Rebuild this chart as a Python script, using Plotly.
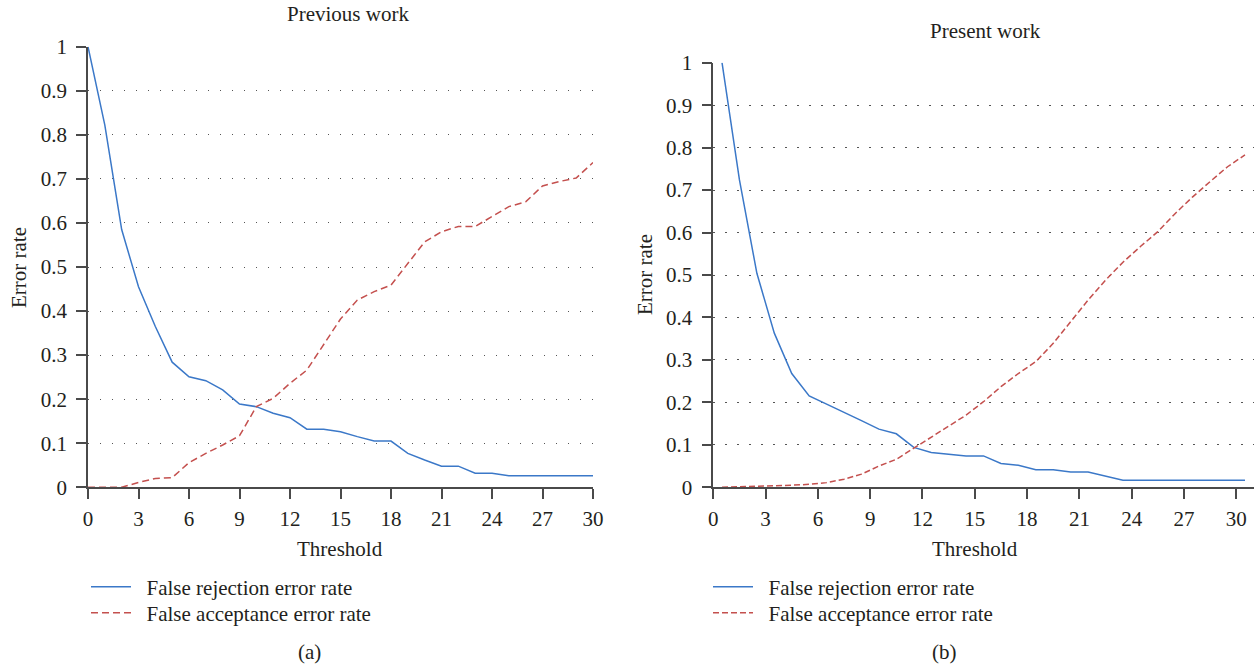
import plotly.graph_objects as go

W, H = 1256, 665

# ---------------- data ----------------
left_threshold = list(range(0, 31))
left_frr = [1.0, 0.822, 0.585, 0.455, 0.365, 0.284, 0.251, 0.242, 0.221, 0.189,
            0.183, 0.168, 0.158, 0.132, 0.132, 0.126, 0.115, 0.105, 0.105, 0.077,
            0.062, 0.048, 0.048, 0.032, 0.032, 0.026, 0.026, 0.026, 0.026, 0.026, 0.026]
left_far = [0.0, 0.0, 0.0, 0.011, 0.02, 0.022, 0.056, 0.077, 0.096, 0.117,
            0.183, 0.202, 0.236, 0.266, 0.325, 0.382, 0.425, 0.444, 0.459, 0.508,
            0.557, 0.58, 0.592, 0.592, 0.614, 0.637, 0.648, 0.684, 0.694, 0.702, 0.737]

right_threshold = [i + 0.5 for i in range(31)]
right_frr = [1.0, 0.724, 0.504, 0.363, 0.268, 0.215, 0.196, 0.177, 0.157, 0.137,
             0.126, 0.094, 0.082, 0.078, 0.074, 0.074, 0.056, 0.052, 0.0415, 0.0415,
             0.036, 0.036, 0.0266, 0.0165, 0.0165, 0.0165, 0.0165, 0.0165, 0.0165, 0.0165, 0.0165]
right_far = [0.0, 0.001, 0.002, 0.003, 0.005, 0.007, 0.011, 0.019, 0.031, 0.05,
             0.066, 0.092, 0.118, 0.143, 0.17, 0.2016, 0.237, 0.268, 0.296, 0.339,
             0.39, 0.441, 0.488, 0.53, 0.567, 0.602, 0.645, 0.684, 0.72, 0.755, 0.783]

x_ticks = list(range(0, 31, 3))
y_ticks = [round(i * 0.1, 1) for i in range(11)]
y_tick_text = ["0", "0.1", "0.2", "0.3", "0.4", "0.5", "0.6", "0.7", "0.8", "0.9", "1"]

series_names = ["False rejection error rate", "False acceptance error rate"]
titles = ["Previous work", "Present work"]
captions = ["(a)", "(b)"]

# ---------------- style ----------------
FONT = "Liberation Serif"
TXT = "#231f20"
AX = "#4a4a4a"
BLUE = "#3b78c8"
RED = "#c4504e"
FS = 21
PAD = "\u00a0\u00a0"


def px(x):
    return x / W


def py(y):
    return 1 - y / H


fig = go.Figure()

fig.add_trace(go.Scatter(x=left_threshold, y=left_frr, mode="lines", name=PAD + series_names[0],
                         line=dict(color=BLUE, width=1.5), xaxis="x", yaxis="y", legend="legend"))
fig.add_trace(go.Scatter(x=left_threshold, y=left_far, mode="lines", name=PAD + series_names[1],
                         line=dict(color=RED, width=1.5, dash="7px,4px"), xaxis="x", yaxis="y", legend="legend2"))
fig.add_trace(go.Scatter(x=right_threshold, y=right_frr, mode="lines", name=PAD + series_names[0],
                         line=dict(color=BLUE, width=1.5), xaxis="x2", yaxis="y2", legend="legend3"))
fig.add_trace(go.Scatter(x=right_threshold, y=right_far, mode="lines", name=PAD + series_names[1],
                         line=dict(color=RED, width=1.5, dash="6px,3px"), xaxis="x2", yaxis="y2", legend="legend4"))

common_x = dict(showgrid=False, zeroline=False, showline=True, linecolor=AX, linewidth=1.6,
                ticks="outside", ticklen=10, tickwidth=1.6, tickcolor=AX, ticklabelstandoff=2,
                tickvals=x_ticks, tickfont=dict(family=FONT, size=FS, color=TXT), automargin=False)
common_y = dict(showgrid=True, gridcolor="#555555", gridwidth=1.3, griddash="1.3px,10.7px",
                zeroline=False, showline=True, linecolor=AX, linewidth=1.6,
                ticks="outside", ticklen=10, tickwidth=1.6, tickcolor=AX, range=[0, 1],
                tickvals=y_ticks, ticktext=y_tick_text, ticklabelstandoff=5,
                tickfont=dict(family=FONT, size=FS, color=TXT), automargin=False)


def leg(xp, yp):
    return dict(x=px(xp), y=py(yp), xanchor="left", yanchor="middle", bgcolor="rgba(0,0,0,0)",
                font=dict(family=FONT, size=FS, color=TXT), itemwidth=40)


fig.update_layout(
    width=W, height=H,
    margin=dict(l=0, r=0, t=0, b=0, autoexpand=False),
    paper_bgcolor="white", plot_bgcolor="white",
    font=dict(family=FONT, size=FS, color=TXT),
    xaxis=dict(common_x, domain=[px(88), px(593)], range=[0, 30], anchor="y"),
    yaxis=dict(common_y, domain=[py(487.3), py(46.7)], anchor="x"),
    xaxis2=dict(common_x, domain=[px(713.3), px(1253.7)], range=[0, 31], anchor="y2"),
    yaxis2=dict(common_y, domain=[py(487.3), py(62.7)], anchor="x2"),
    legend=leg(86, 587),
    legend2=leg(86, 613),
    legend3=leg(708, 587),
    legend4=leg(708, 613),
    showlegend=True,
)

ann = []
ann.append(dict(text=titles[0], x=px(348), y=py(14), xref="paper", yref="paper",
                showarrow=False, xanchor="center", yanchor="middle"))
ann.append(dict(text=titles[1], x=px(985), y=py(31), xref="paper", yref="paper",
                showarrow=False, xanchor="center", yanchor="middle"))
ann.append(dict(text="Threshold", x=px(340), y=py(549), xref="paper", yref="paper",
                showarrow=False, xanchor="center", yanchor="middle"))
ann.append(dict(text="Threshold", x=px(975), y=py(549), xref="paper", yref="paper",
                showarrow=False, xanchor="center", yanchor="middle"))
ann.append(dict(text="Error rate", x=px(19), y=py(268), xref="paper", yref="paper", textangle=-90,
                showarrow=False, xanchor="center", yanchor="middle"))
ann.append(dict(text="Error rate", x=px(645), y=py(275), xref="paper", yref="paper", textangle=-90,
                showarrow=False, xanchor="center", yanchor="middle"))
ann.append(dict(text=captions[0], x=px(309), y=py(652), xref="paper", yref="paper",
                showarrow=False, xanchor="center", yanchor="middle"))
ann.append(dict(text=captions[1], x=px(944), y=py(652), xref="paper", yref="paper",
                showarrow=False, xanchor="center", yanchor="middle"))
fig.update_layout(annotations=ann)

fig.write_html("out.html")
